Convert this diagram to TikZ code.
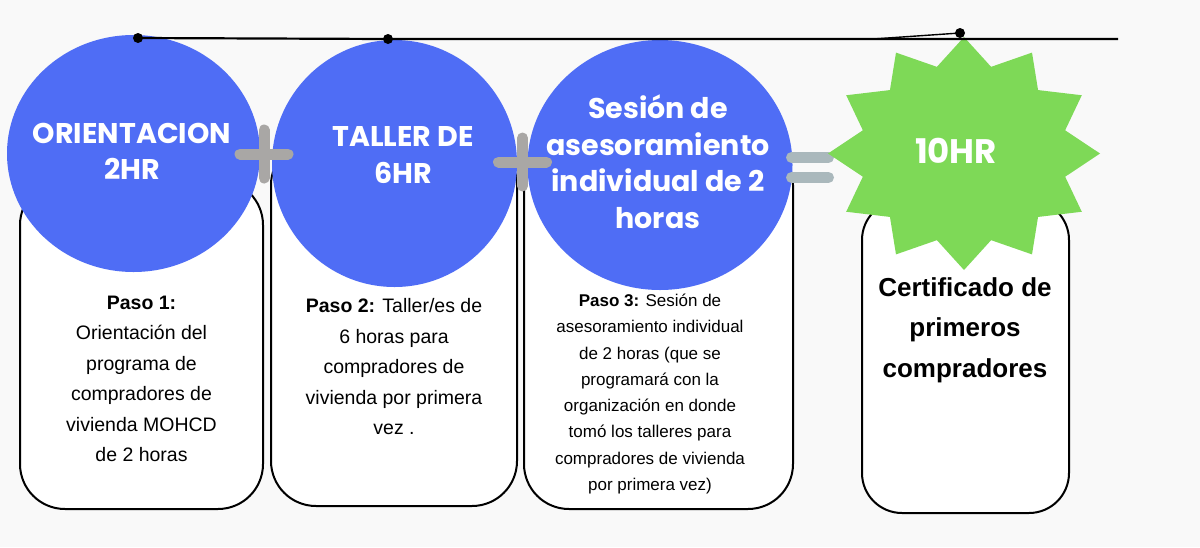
\documentclass[tikz,border=0pt]{standalone}
\usepackage{fontspec}
\setmainfont{Liberation Sans}
\newfontfamily\headfont{Poppins}
\usepackage{xcolor}
\usepackage{tikz}
\usetikzlibrary{shapes.geometric}

\definecolor{circblue}{HTML}{4F6DF5}
\definecolor{stargreen}{HTML}{7ED957}
\definecolor{plusgray}{HTML}{A9A7A5}
\definecolor{eqgray}{HTML}{AAB8BC}
\definecolor{paper}{HTML}{F9F9F9}

\begin{document}
\begin{tikzpicture}[
    x=1pt, y=-1pt,
    every node/.style={font=\fontsize{19.5}{30.5}\selectfont},
    stepbox/.style={
        draw, line width=2pt, fill=white, rectangle, rounded corners=45pt,
        inner sep=0pt, outer sep=0pt
    },
    bubble/.style={
        ellipse, fill=circblue, inner sep=0pt, outer sep=0pt
    },
    bubbletext/.style={
        text=white, align=center, inner sep=0pt,
        font=\headfont\bfseries\fontsize{28.5}{36.5}\selectfont
    },
    steptext/.style={align=center, inner sep=0pt},
    plusbar/.style={plusgray, line width=11pt, line cap=round},
    eqbar/.style={eqgray, line width=11pt, line cap=round},
    dot/.style={circle, fill=black, minimum size=10pt, inner sep=0pt},
    rail/.style={line width=2.2pt},
]

\useasboundingbox (0,0) rectangle (1200,547);
\fill[paper] (0,0) rectangle (1200,547);

% ── step boxes ──
\node[stepbox, minimum width=243, minimum height=329] (box1) at (141.5,344.5) {};
\node[stepbox, minimum width=246, minimum height=366] (box2) at (394,323) {};
\node[stepbox, minimum width=269, minimum height=369] (box3) at (658.5,324.5) {};
\node[stepbox, minimum width=207, minimum height=313, rounded corners=40pt] (box4) at (965.5,356.5) {};

% ── step texts ──
\node[steptext] (txt1) at (141.5,379) {%
    \textbf{Paso 1:}\\ Orientación del\\ programa de\\ compradores de\\
    vivienda MOHCD\\ de 2 horas};
\node[steptext] (txt2) at (394,367) {%
    \textbf{Paso 2:} Taller/es de\\ 6 horas para\\ compradores de\\
    vivienda por primera\\ vez .};
\node[steptext, font=\fontsize{17}{26.3}\selectfont] (txt3) at (650,394) {%
    \textbf{Paso 3:} Sesión de\\ asesoramiento individual\\ de 2 horas (que se\\
    programará con la\\ organización en donde\\ tomó los talleres para\\
    compradores de vivienda\\ por primera vez)};
\node[steptext, font=\bfseries\fontsize{26}{40.5}\selectfont] (txt4) at (965,330) {%
    Certificado de\\ primeros\\ compradores};

% ── bubbles ──
\node[bubble, minimum width=253, minimum height=237] (orient) at (133.5,153.5) {};
\node[bubble, minimum width=245, minimum height=247] (taller) at (394.5,163.5) {};
\node[bubble, minimum width=265, minimum height=250] (sesion) at (660,165) {};

\node[bubbletext] (orientlbl) at (132,151.5) {ORIENTACION\\ 2HR};
\node[bubbletext] (tallerlbl) at (403,155) {TALLER DE\\ 6HR};
\node[bubbletext] (sesionlbl) at (658,161.5) {Sesión de\\ asesoramiento\\ individual de 2\\ horas};

% ── plus / equals ──
\coordinate (plus1) at (264,154);
\coordinate (plus2) at (522.5,162);
\foreach \p in {plus1, plus2} {
    \draw[plusbar] ([xshift=-24pt]\p) -- ([xshift=24pt]\p);
    \draw[plusbar] ([yshift=-24pt]\p) -- ([yshift=24pt]\p);
}
\draw[eqbar] (791.5,157.5) -- (828.5,157.5);
\draw[eqbar] (791.5,177.5) -- (828.5,177.5);

% ── burst ──
\fill[stargreen] plot[samples at={0,...,23}, variable=\k]
    ({964 + 136*(1-0.23*mod(\k,2))*cos(90+15*\k)},
     {153.5 - 116.5*(1-0.23*mod(\k,2))*sin(90+15*\k)}) -- cycle;
\node[bubbletext, font=\headfont\bfseries\fontsize{34}{40}\selectfont] (hr) at (956,150.5) {10HR};

% ── rail ──
\node[dot] (d1) at (138,38) {};
\node[dot] (d2) at (388,39) {};
\node[dot] (d3) at (960,33) {};
\coordinate (railend) at (1118,39);
\coordinate (kink) at (873,39);
\draw[rail] (d1.center) -- (d2.center) -- (railend);
\draw[line width=1.4pt] (kink) -- (d3.center);

\end{tikzpicture}
\end{document}
